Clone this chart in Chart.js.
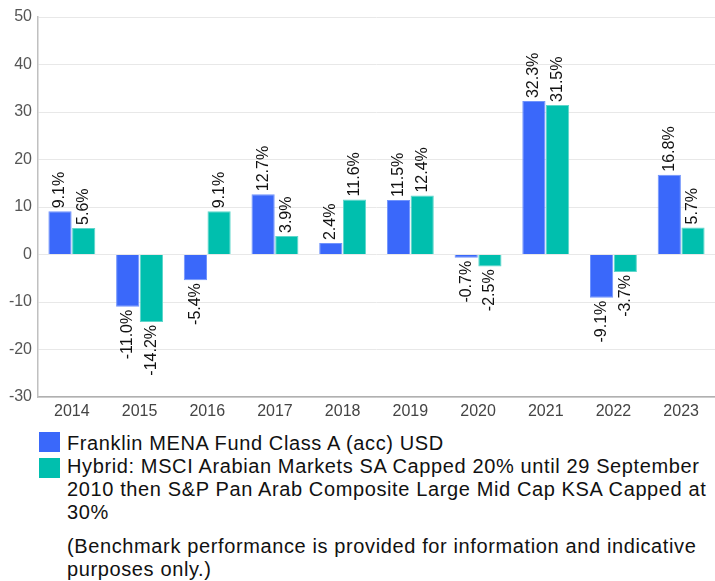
<!DOCTYPE html>
<html>
<head>
<meta charset="utf-8">
<script src="https://cdn.jsdelivr.net/npm/chart.js@4.4.1/dist/chart.umd.min.js"></script>
<style>
  html, body { margin: 0; padding: 0; background: #fff; }
  body { width: 715px; height: 581px; position: relative; overflow: hidden;
         font-family: "Liberation Sans", Arial, sans-serif; }
  #wrap { position: absolute; left: 0; top: 0; width: 715px; height: 425px; }
  .sw { position: absolute; left: 39px; width: 21px; height: 20px; }
  .txt { position: absolute; left: 67px; width: 646px; font-size: 20px; line-height: 23px; color: #111; letter-spacing: 0.62px; }
</style>
</head>
<body>
<div id="wrap"><canvas id="c"></canvas></div>
<div class="sw" id="sw1" style="top:432px;"></div>
<div class="txt" id="t1" style="top:432px;"></div>
<div class="sw" id="sw2" style="top:458px;"></div>
<div class="txt" id="t2" style="top:455px;"></div>
<div class="txt" id="note" style="top:535px;"></div>
<script>
const categories = ["2014","2015","2016","2017","2018","2019","2020","2021","2022","2023"];
const fundValues = [9.1, -11.0, -5.4, 12.7, 2.4, 11.5, -0.7, 32.3, -9.1, 16.8];
const benchValues = [5.6, -14.2, 9.1, 3.9, 11.6, 12.4, -2.5, 31.5, -3.7, 5.7];
const seriesNames = [
  "Franklin MENA Fund Class A (acc) USD",
  "Hybrid: MSCI Arabian Markets SA Capped 20% until 29 September 2010 then S&P Pan Arab Composite Large Mid Cap KSA Capped at 30%"
];
const noteText = "(Benchmark performance is provided for information and indicative purposes only.)";
const colors = ["#3A68FA", "#00BFAE"];
const borderColors = ["#7194FC", "#5ED6CB"];

document.getElementById('sw1').style.background = colors[0];
document.getElementById('sw2').style.background = colors[1];
document.getElementById('t1').textContent = seriesNames[0];
document.getElementById('t2').textContent = seriesNames[1];
document.getElementById('note').textContent = noteText;

const FONT = "'Liberation Sans', Arial, sans-serif";

const labelPlugin = {
  id: 'barLabels',
  afterDatasetsDraw(chart) {
    const ctx = chart.ctx;
    ctx.save();
    ctx.font = "16px " + FONT;
    ctx.fillStyle = "#111";
    ctx.textBaseline = "middle";
    chart.data.datasets.forEach((ds, di) => {
      const meta = chart.getDatasetMeta(di);
      meta.data.forEach((el, i) => {
        const v = ds.data[i];
        const txt = v.toFixed(1) + "%";
        ctx.save();
        if (v >= 0) {
          ctx.translate(el.x, el.y - 3);
          ctx.rotate(-Math.PI / 2);
          ctx.textAlign = "left";
        } else {
          ctx.translate(el.x, el.y + 3);
          ctx.rotate(-Math.PI / 2);
          ctx.textAlign = "right";
        }
        ctx.fillText(txt, 0, 0);
        ctx.restore();
      });
    });
    ctx.restore();
  }
};

new Chart(document.getElementById('c'), {
  type: 'bar',
  data: {
    labels: categories,
    datasets: [
      { label: seriesNames[0], data: fundValues, backgroundColor: colors[0], borderColor: borderColors[0], borderWidth: 1 },
      { label: seriesNames[1], data: benchValues, backgroundColor: colors[1], borderColor: borderColors[1], borderWidth: 1 }
    ]
  },
  options: {
    responsive: true,
    maintainAspectRatio: false,
    animation: false,
    layout: { padding: { top: 17, right: 0, left: 0, bottom: 0 } },
    datasets: { bar: { categoryPercentage: 0.7, barPercentage: 0.98 } },
    plugins: { legend: { display: false }, tooltip: { enabled: false } },
    scales: {
      x: {
        grid: { color: 'rgba(0,0,0,0)', drawTicks: false },
        border: { color: '#b0b0b0', width: 1.5 },
        ticks: { color: '#444', font: { size: 16, family: FONT }, padding: 5 },
        afterFit(s) { s.height = 28; }
      },
      y: {
        min: -30, max: 50,
        grid: { color: '#e8e8e8', drawTicks: false },
        border: { color: '#c0c0c0', width: 1.5 },
        ticks: { stepSize: 10, color: '#555', font: { size: 16, family: FONT }, padding: 6 },
        afterFit(s) { s.width = 38; }
      }
    }
  },
  plugins: [labelPlugin]
});
</script>
</body>
</html>
